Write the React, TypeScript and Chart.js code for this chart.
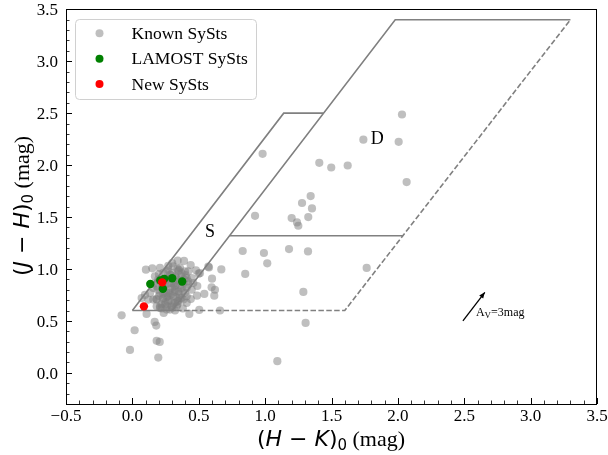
import React, { useEffect, useRef } from "react";
import { Chart, registerables } from "chart.js";

Chart.register(...registerables);

// ---------------- data ----------------
const knownX = [
  0.981, 1.408, 1.498, 1.622, 1.74, 1.343, 1.278, 1.353, 0.924, 1.2, 1.325, 1.24, 1.25,
  0.831, 0.991, 1.18, 1.323, 1.016, 0.85, 0.67, 0.572, 1.765, 0.6, 0.597, 0.622, 0.542,
  0.617, 1.288, 0.66, 1.305, 2.031, 2.006, 2.066, 1.092, -0.081, 0.017, -0.018, 0.107,
  0.168, 0.18, 0.183, 0.206, 0.195, 0.236, 0.429, 0.504, 0.487, 0.489, 0.577, 0.07,
  0.102, 0.15, 0.409, 0.509, 0.095,
  0.3, 0.341, 0.389, 0.439, 0.479, 0.499, 0.421, 0.359, 0.27, 0.133, 0.157, 0.183,
  0.208, 0.283, 0.334, 0.384, 0.409, 0.447, 0.459, 0.447,
  0.321, 0.283, 0.258, 0.308, 0.346, 0.371, 0.233, 0.27, 0.321, 0.359, 0.396, 0.421,
  0.334, 0.283, 0.233, 0.183, 0.208, 0.157, 0.246, 0.296, 0.371, 0.396, 0.346, 0.195,
  0.17, 0.308, 0.208, 0.12, 0.183, 0.246, 0.296, 0.346, 0.384, 0.258, 0.321, 0.221,
  0.27, 0.409, 0.208, 0.258, 0.321,
  0.22, 0.25, 0.28, 0.31, 0.34, 0.37, 0.2, 0.23, 0.26, 0.29, 0.32, 0.35, 0.38, 0.41,
  0.19, 0.24, 0.27, 0.3, 0.33, 0.36, 0.39, 0.21, 0.25, 0.29, 0.33, 0.37, 0.42, 0.18,
  0.22, 0.26, 0.3, 0.34, 0.38, 0.24, 0.28, 0.32, 0.36, 0.4, 0.26, 0.3, 0.34, 0.2,
  0.27, 0.31, 0.35, 0.23, 0.29, 0.33, 0.16, 0.44,
];
const knownY = [
  2.109, 2.022, 1.977, 1.996, 2.245, 1.702, 1.635, 1.583, 1.512, 1.49, 1.5, 1.448, 1.416,
  1.173, 1.154, 1.192, 1.169, 1.054, 0.952, 0.996, 1.022, 1.01, 0.907, 0.823, 0.8, 0.76,
  0.743, 0.779, 0.6, 0.481, 2.487, 2.224, 1.837, 0.112, 0.554, 0.41, 0.221, 0.567,
  0.49, 0.455, 0.308, 0.298, 0.147, 0.577, 0.567, 0.606, 0.743, 0.836, 1.015, 0.72,
  0.993, 1.006, 0.673, 0.96, 0.75,
  1.057, 1.08, 1.077, 1.038, 0.987, 0.955, 0.977, 1.01, 0.993, 0.769, 0.705, 0.64,
  0.625, 0.609, 0.64, 0.705, 0.737, 0.8, 0.865, 0.913,
  0.833, 0.801, 0.769, 0.737, 0.785, 0.817, 0.721, 0.688, 0.673, 0.721, 0.769, 0.849,
  0.897, 0.945, 0.962, 0.833, 0.769, 0.817, 0.849, 0.865, 0.929, 0.977, 0.977, 0.897,
  0.929, 1.025, 1.01, 0.705, 0.705, 0.657, 0.64, 0.688, 0.865, 0.897, 0.929, 0.817,
  0.737, 0.913, 0.64, 0.609, 0.6,
  0.66, 0.68, 0.7, 0.67, 0.69, 0.72, 0.74, 0.76, 0.73, 0.75, 0.78, 0.76, 0.79, 0.82,
  0.8, 0.83, 0.86, 0.82, 0.85, 0.88, 0.9, 0.87, 0.91, 0.94, 0.92, 0.96, 0.88, 0.71,
  0.62, 0.64, 0.63, 0.66, 0.62, 0.79, 0.77, 0.8, 0.84, 0.94, 0.98, 0.96, 1.0, 0.95,
  1.03, 0.86, 0.99, 0.71, 0.91, 0.73, 0.86, 0.71,
];
const lamostX = [0.135, 0.21, 0.24, 0.3, 0.375, 0.23];
const lamostY = [0.855, 0.89, 0.905, 0.91, 0.88, 0.81];
const newX = [0.225, 0.087];
const newY = [0.871, 0.64];

// boundary lines of the S and D regions
const sEdgeX = [0, 1.14, 1.44];
const sEdgeY = [0.6, 2.5, 2.5];
const mainEdgeX = [0.3, 1.98, 3.3];
const mainEdgeY = [0.6, 3.4, 3.4];
const baseSolidX = [0, 0.33];
const baseSolidY = [0.6, 0.6];
const dMidX = [0.73, 2.04];
const dMidY = [1.32, 1.32];
const dashEdgeX = [0.33, 1.6, 3.3];
const dashEdgeY = [0.6, 0.6, 3.4];
const arrowX = [2.49, 2.655];
const arrowY = [0.5, 0.775];

const xMajor = [-0.5, 0, 0.5, 1, 1.5, 2, 2.5, 3, 3.5];
const xMajorLabels = ["\u22120.5", "0.0", "0.5", "1.0", "1.5", "2.0", "2.5", "3.0", "3.5"];
const yMajor = [0, 0.5, 1, 1.5, 2, 2.5, 3, 3.5];
const yMajorLabels = ["0.0", "0.5", "1.0", "1.5", "2.0", "2.5", "3.0", "3.5"];
const xMinorStep = 0.1;
const yMinorStep = 0.1;

const legendLabels = ["Known SySts", "LAMOST SySts", "New SySts"];
const GRAY = "rgba(128,128,128,0.5)";
const GREEN = "#008000";
const RED = "#ff0000";
const LINE = "#808080";

const pts = (xs: number[], ys: number[]) => xs.map((x, i) => ({ x, y: ys[i] }));

const SERIF = "'Liberation Serif', 'Times New Roman', serif";
const MATH = "'DejaVu Sans', sans-serif";

function drawRuns(ctx: CanvasRenderingContext2D, runs: { t: string; f: string; dy?: number }[], cx: number, baseY: number) {
  let total = 0;
  for (const r of runs) {
    ctx.font = r.f;
    total += ctx.measureText(r.t).width;
  }
  let x = cx - total / 2;
  ctx.textAlign = "left";
  ctx.textBaseline = "alphabetic";
  for (const r of runs) {
    ctx.font = r.f;
    ctx.fillText(r.t, x, baseY + (r.dy || 0));
    x += ctx.measureText(r.t).width;
  }
}

const decorPlugin = {
  id: "decor",
  afterDraw(chart: any) {
    const { ctx, chartArea: a, scales } = chart;
    const xs = scales.x;
    const ys = scales.y;
    ctx.save();

    // frame
    ctx.strokeStyle = "#000";
    ctx.lineWidth = 1;
    ctx.strokeRect(Math.round(a.left) + 0.5, Math.round(a.top) + 0.5, Math.round(a.right - a.left) - 1, Math.round(a.bottom - a.top));

    // ticks (inward)
    ctx.beginPath();
    ctx.lineWidth = 1;
    for (const v of xMajor) {
      const px = Math.round(xs.getPixelForValue(v)) + 0.5;
      ctx.moveTo(px, a.bottom);
      ctx.lineTo(px, a.bottom - 6);
    }
    for (const v of yMajor) {
      const py = Math.round(ys.getPixelForValue(v)) + 0.5;
      ctx.moveTo(a.left, py);
      ctx.lineTo(a.left + 6, py);
    }
    ctx.stroke();
    ctx.beginPath();
    ctx.lineWidth = 0.8;
    for (let i = -5; i <= 35; i++) {
      const v = i * xMinorStep;
      if (i % 5 === 0) continue;
      const px = Math.round(xs.getPixelForValue(v)) + 0.5;
      ctx.moveTo(px, a.bottom);
      ctx.lineTo(px, a.bottom - 3.5);
    }
    for (let i = -3; i <= 35; i++) {
      const v = i * yMinorStep;
      if (i % 5 === 0) continue;
      const py = Math.round(ys.getPixelForValue(v)) + 0.5;
      ctx.moveTo(a.left, py);
      ctx.lineTo(a.left + 3.5, py);
    }
    ctx.stroke();

    // tick labels
    ctx.fillStyle = "#000";
    ctx.font = `17px ${SERIF}`;
    ctx.textAlign = "center";
    ctx.textBaseline = "alphabetic";
    xMajor.forEach((v, i) => {
      ctx.fillText(xMajorLabels[i], xs.getPixelForValue(v), a.bottom + 17);
    });
    ctx.textAlign = "right";
    yMajor.forEach((v, i) => {
      ctx.fillText(yMajorLabels[i], a.left - 8, ys.getPixelForValue(v) + 6);
    });

    // axis titles
    const fs = 22;
    const runsX = [
      { t: "(", f: `${fs}px ${MATH}` },
      { t: "H", f: `italic ${fs}px ${MATH}` },
      { t: " \u2212 ", f: `${fs}px ${MATH}` },
      { t: "K", f: `italic ${fs}px ${MATH}` },
      { t: ")", f: `${fs}px ${MATH}` },
      { t: "0", f: `${Math.round(fs * 0.7)}px ${MATH}`, dy: 4 },
      { t: " (mag)", f: `${fs}px ${SERIF}` },
    ];
    drawRuns(ctx, runsX, 331, 446);
    const runsY = [
      { t: "(", f: `${fs}px ${MATH}` },
      { t: "J", f: `italic ${fs}px ${MATH}` },
      { t: " \u2212 ", f: `${fs}px ${MATH}` },
      { t: "H", f: `italic ${fs}px ${MATH}` },
      { t: ")", f: `${fs}px ${MATH}` },
      { t: "0", f: `${Math.round(fs * 0.7)}px ${MATH}`, dy: 4 },
      { t: " (mag)", f: `${fs}px ${SERIF}` },
    ];
    ctx.save();
    ctx.translate(29, 206);
    ctx.rotate(-Math.PI / 2);
    drawRuns(ctx, runsY, 0, 0);
    ctx.restore();

    // region labels
    ctx.font = `18px ${SERIF}`;
    ctx.textAlign = "center";
    ctx.textBaseline = "middle";
    ctx.fillText("S", xs.getPixelForValue(0.585), ys.getPixelForValue(1.352));
    ctx.fillText("D", xs.getPixelForValue(1.845), ys.getPixelForValue(2.25));

    // arrow head
    const x0 = xs.getPixelForValue(arrowX[0]);
    const y0 = ys.getPixelForValue(arrowY[0]);
    const x1 = xs.getPixelForValue(arrowX[1]);
    const y1 = ys.getPixelForValue(arrowY[1]);
    const ang = Math.atan2(y1 - y0, x1 - x0);
    const hl = 6, hw = 2.5;
    ctx.beginPath();
    ctx.moveTo(x1, y1);
    ctx.lineTo(x1 - hl * Math.cos(ang) + hw * Math.sin(ang), y1 - hl * Math.sin(ang) - hw * Math.cos(ang));
    ctx.lineTo(x1 - hl * Math.cos(ang) - hw * Math.sin(ang), y1 - hl * Math.sin(ang) + hw * Math.cos(ang));
    ctx.closePath();
    ctx.fillStyle = "#000";
    ctx.fill();

    // A_V label
    const lx = xs.getPixelForValue(2.588);
    const ly = ys.getPixelForValue(0.544);
    ctx.textAlign = "left";
    ctx.textBaseline = "alphabetic";
    ctx.font = `12px ${SERIF}`;
    ctx.fillText("A", lx, ly);
    let w = ctx.measureText("A").width;
    ctx.font = `9px ${SERIF}`;
    ctx.fillText("V", lx + w, ly + 1.5);
    w += ctx.measureText("V").width;
    ctx.font = `12px ${SERIF}`;
    ctx.fillText("=3mag", lx + w, ly);

    // legend
    const lx0 = 75.5, ly0 = 19.5, lw = 181, lh = 80;
    ctx.beginPath();
    const r = 4;
    ctx.moveTo(lx0 + r, ly0);
    ctx.lineTo(lx0 + lw - r, ly0);
    ctx.quadraticCurveTo(lx0 + lw, ly0, lx0 + lw, ly0 + r);
    ctx.lineTo(lx0 + lw, ly0 + lh - r);
    ctx.quadraticCurveTo(lx0 + lw, ly0 + lh, lx0 + lw - r, ly0 + lh);
    ctx.lineTo(lx0 + r, ly0 + lh);
    ctx.quadraticCurveTo(lx0, ly0 + lh, lx0, ly0 + lh - r);
    ctx.lineTo(lx0, ly0 + r);
    ctx.quadraticCurveTo(lx0, ly0, lx0 + r, ly0);
    ctx.closePath();
    ctx.fillStyle = "rgba(255,255,255,0.8)";
    ctx.fill();
    ctx.strokeStyle = "#d0d0d0";
    ctx.lineWidth = 1;
    ctx.stroke();
    const cols = [GRAY, GREEN, RED];
    const rows = [33.3, 58.7, 84];
    legendLabels.forEach((lab, i) => {
      ctx.beginPath();
      ctx.arc(99.5, rows[i], 4, 0, Math.PI * 2);
      ctx.fillStyle = cols[i];
      ctx.fill();
      ctx.fillStyle = "#000";
      ctx.font = `17.5px ${SERIF}`;
      ctx.textAlign = "left";
      ctx.textBaseline = "middle";
      ctx.fillText(lab, 131.5, rows[i] + 1);
    });

    ctx.restore();
  },
};

export default function App() {
  const ref = useRef<HTMLCanvasElement | null>(null);
  useEffect(() => {
    if (!ref.current) return;
    const lineDs = (xs: number[], ys: number[], dash: number[] | undefined, color: string, width: number) => ({
      type: "scatter" as const,
      data: pts(xs, ys),
      showLine: true,
      borderColor: color,
      borderWidth: width,
      borderDash: dash || [],
      pointRadius: 0,
      fill: false,
      order: 5,
    });
    const chart = new Chart(ref.current, {
      type: "scatter",
      data: {
        datasets: [
          { label: legendLabels[2], data: pts(newX, newY), backgroundColor: RED, borderWidth: 0, pointRadius: 4.2, order: 0 },
          { label: legendLabels[1], data: pts(lamostX, lamostY), backgroundColor: GREEN, borderWidth: 0, pointRadius: 4.2, order: 1 },
          { label: legendLabels[0], data: pts(knownX, knownY), backgroundColor: GRAY, borderWidth: 0, pointRadius: 4.1, order: 2 },
          lineDs(sEdgeX, sEdgeY, undefined, LINE, 1.6),
          lineDs(mainEdgeX, mainEdgeY, undefined, LINE, 1.6),
          lineDs(baseSolidX, baseSolidY, undefined, LINE, 1.6),
          lineDs(dMidX, dMidY, undefined, LINE, 1.6),
          lineDs(dashEdgeX, dashEdgeY, [5.5, 2.4], LINE, 1.6),
          lineDs(arrowX, arrowY, undefined, "#000", 1.3),
        ] as any,
      },
      options: {
        animation: false,
        responsive: false,
        devicePixelRatio: 1,
        events: [],
        layout: { padding: { left: 66, right: 11, top: 9.3, bottom: 51 } },
        plugins: { legend: { display: false }, tooltip: { enabled: false } },
        scales: {
          x: { type: "linear", min: -0.5, max: 3.5, display: false },
          y: { type: "linear", min: -0.3, max: 3.5, display: false },
        },
      },
      plugins: [decorPlugin],
    });
    return () => chart.destroy();
  }, []);
  return (
    <div style={{ position: "fixed", left: 0, top: 0, width: 608, height: 455, background: "#fff" }}>
      <canvas ref={ref} width={608} height={455} style={{ display: "block" }} />
    </div>
  );
}
